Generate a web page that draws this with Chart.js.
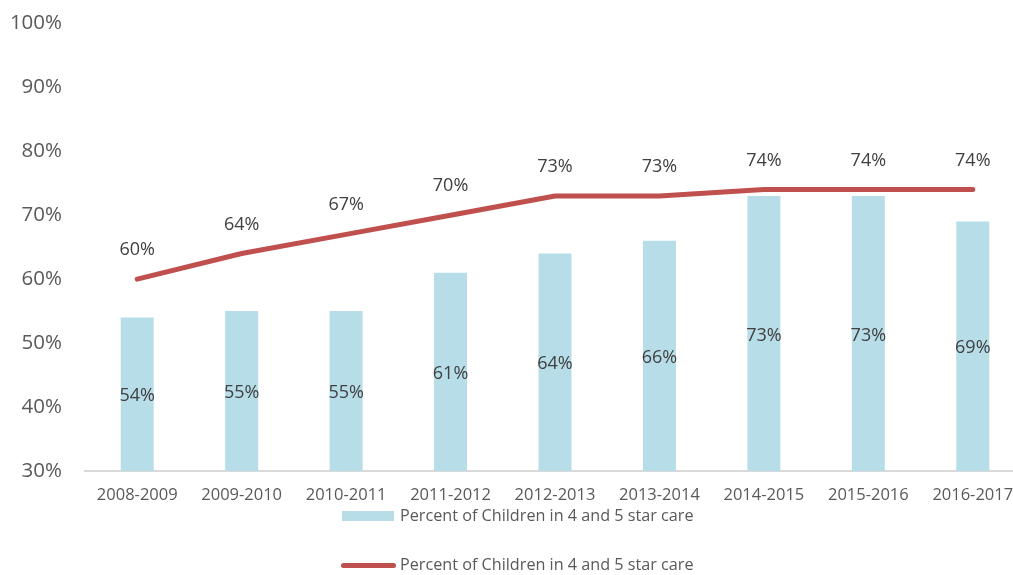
<!DOCTYPE html>
<html>
<head>
<meta charset="utf-8">
<script src="https://cdn.jsdelivr.net/npm/chart.js@4/dist/chart.umd.min.js"></script>
<style>
  html, body { margin:0; padding:0; background:#fff; overflow:hidden; }
  #wrap { position:relative; width:1013px; height:575px; overflow:hidden; }
  #c { position:absolute; left:0; top:-12px; }
  .leg { position:absolute; font-family:"Open Sans", sans-serif; font-size:16.2px; color:#595959; white-space:nowrap; }
  .sw { position:absolute; }
</style>
</head>
<body>
<div id="wrap">
  <canvas id="c" width="1040" height="587" style="width:1040px;height:587px"></canvas>
  <div id="legend"></div>
</div>
<script>
const categories = ["2008-2009","2009-2010","2010-2011","2011-2012","2012-2013","2013-2014","2014-2015","2015-2016","2016-2017"];
const barValues = [54,55,55,61,64,66,73,73,69];
const lineValues = [60,64,67,70,73,73,74,74,74];
const seriesName = "Percent of Children in 4 and 5 star care";
const yTicks = [30,40,50,60,70,80,90,100];

const BAR_COLOR = "#B7DDE8";
const LINE_COLOR = "#C0504D";

const labelPlugin = {
  id: 'valueLabels',
  afterDatasetsDraw(chart) {
    const ctx = chart.ctx;
    const baseY = chart.scales.y.getPixelForValue(chart.scales.y.min);
    ctx.save();
    ctx.font = '18px "Open Sans", sans-serif';
    ctx.fillStyle = '#404040';
    ctx.textAlign = 'center';
    ctx.textBaseline = 'middle';
    chart.data.datasets.forEach((ds, di) => {
      const meta = chart.getDatasetMeta(di);
      meta.data.forEach((el, i) => {
        const txt = ds.data[i] + '%';
        if (ds.type === 'bar') {
          const yMid = (el.y + baseY) / 2;
          ctx.fillText(txt, el.x, yMid + 2);
        } else {
          ctx.fillText(txt, el.x, el.y - 29);
        }
      });
    });
    ctx.restore();
  }
};

const chart = new Chart(document.getElementById('c'), {
  data: {
    labels: categories,
    datasets: [
      { type:'line', label: seriesName, data: lineValues, borderColor: LINE_COLOR, backgroundColor: LINE_COLOR,
        borderWidth: 5, pointRadius: 0, tension: 0, borderCapStyle:'round', borderJoinStyle:'round', order: 0 },
      { type:'bar', label: seriesName, data: barValues, backgroundColor: BAR_COLOR,
        barPercentage: 0.316, categoryPercentage: 1.0, order: 1 }
    ]
  },
  options: {
    responsive: false,
    animation: false,
    devicePixelRatio: 1,
    layout: { padding: { left: 0, right: 15, top: 10, bottom: 0 } },
    plugins: { legend: { display:false }, tooltip: { enabled:false } },
    scales: {
      x: {
        grid: { display:false, drawTicks:false },
        border: { display:true, color:'#D9D9D9', width:2 },
        ticks: { color:'#595959', font:{ family:'"Open Sans", sans-serif', size:16.5 }, padding:14, maxRotation:0, autoSkip:false },
        afterFit(scale) { scale.height = 104; }
      },
      y: {
        min: 30, max: 100,
        afterBuildTicks(scale) { scale.ticks = yTicks.map(v => ({ value: v })); },
        grid: { display:false, drawTicks:false },
        border: { display:false },
        ticks: { color:'#595959', font:{ family:'"Open Sans", sans-serif', size:20.5 }, padding:23, callback: v => v + '%' },
        afterFit(scale) { scale.width = 85; }
      }
    }
  },
  plugins: [labelPlugin]
});

// HTML legend built from datasets
const legend = document.getElementById('legend');
const barDs = chart.data.datasets[1], lineDs = chart.data.datasets[0];
function addItem(ds, y, isLine) {
  const sw = document.createElement('div');
  sw.className = 'sw';
  if (isLine) {
    sw.style.cssText = `left:341px;top:${y-2.5}px;width:55px;height:5px;border-radius:3px;background:${ds.borderColor}`;
  } else {
    sw.style.cssText = `left:342px;top:${y-5}px;width:52px;height:10px;background:${ds.backgroundColor}`;
  }
  legend.appendChild(sw);
  const t = document.createElement('div');
  t.className = 'leg';
  t.textContent = ds.label;
  t.style.left = '400px';
  t.style.top = (y - 12) + 'px';
  legend.appendChild(t);
}
addItem(barDs, 516, false);
addItem(lineDs, 565, true);
</script>
</body>
</html>
